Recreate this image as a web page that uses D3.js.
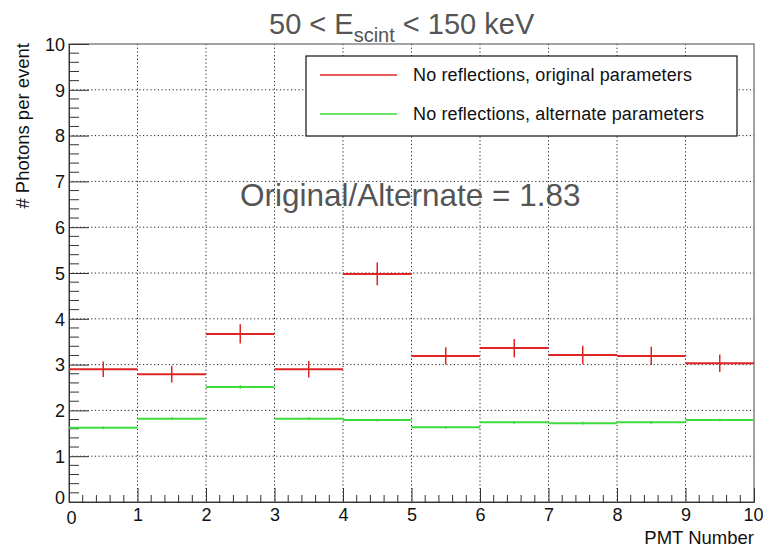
<!DOCTYPE html>
<html>
<head>
<meta charset="utf-8">
<script src="https://cdn.jsdelivr.net/npm/d3@7"></script>
<style>
  body { margin: 0; background: #fff; }
  svg text { font-family: "Liberation Sans", Arial, Helvetica, sans-serif; }
</style>
</head>
<body>
<div id="chart"></div>
<script>
// PMT bins 0..9 (bin width 1)
const pmt = [0, 1, 2, 3, 4, 5, 6, 7, 8, 9]
// no reflections, original parameters
const origVal = [2.90, 2.79, 3.67, 2.90, 4.98, 3.19, 3.36, 3.21, 3.19, 3.03]
const origErr = [0.17, 0.18, 0.21, 0.18, 0.25, 0.19, 0.20, 0.20, 0.20, 0.19]
// no reflections, alternate parameters
const altVal = [1.62, 1.82, 2.51, 1.82, 1.79, 1.63, 1.74, 1.72, 1.74, 1.79]
const altErr = [0.03, 0.03, 0.04, 0.03, 0.03, 0.03, 0.03, 0.03, 0.03, 0.03]
const xTicks = d3.range(0, 11)
const yTicks = d3.range(0, 11)
const legendLabels = ['No reflections, original parameters', 'No reflections, alternate parameters']
const colors = ['#e02424', '#3cdc3c']

const width = 763, height = 548
const mLeft = 69, mRight = 754, mTop = 44, mBottom = 502

const svg = d3.select('#chart').append('svg')
  .attr('width', width).attr('height', height)

const x = d3.scaleLinear().domain([0, 10]).range([mLeft, mRight])
const y = d3.scaleLinear().domain([0, 10]).range([mBottom, mTop])

// grid
svg.append('g').selectAll('line')
  .data(xTicks.slice(1, -1)).enter().append('line')
  .attr('x1', d => x(d)).attr('x2', d => x(d))
  .attr('y1', mTop).attr('y2', mBottom)
  .attr('stroke', '#222').attr('stroke-dasharray', '1.2,2.5')
svg.append('g').selectAll('line')
  .data(yTicks.slice(1, -1)).enter().append('line')
  .attr('y1', d => y(d)).attr('y2', d => y(d))
  .attr('x1', mLeft).attr('x2', mRight)
  .attr('stroke', '#222').attr('stroke-dasharray', '1.2,2.5')

// frame
svg.append('rect')
  .attr('x', mLeft).attr('y', mTop)
  .attr('width', mRight - mLeft).attr('height', mBottom - mTop)
  .attr('fill', 'none').attr('stroke', '#666').attr('stroke-width', 1.2)

// axes (ROOT style ticks inside the frame)
const xAxis = d3.axisBottom(x).tickValues(xTicks).tickSize(-14).tickPadding(4).tickFormat(d3.format('d'))
const gx = svg.append('g').attr('transform', `translate(0,${mBottom})`).call(xAxis)
const yAxis = d3.axisLeft(y).tickValues(yTicks).tickSize(-20).tickPadding(4).tickFormat(d3.format('d'))
const gy = svg.append('g').attr('transform', `translate(${mLeft},0)`).call(yAxis)
gx.select('.domain').attr('stroke', '#333')
gy.select('.domain').attr('stroke', '#333')
gx.selectAll('.tick line').attr('stroke', '#333')
gy.selectAll('.tick line').attr('stroke', '#333')
gx.selectAll('text').attr('font-size', 18).attr('fill', '#111').attr('dy', '0.85em')
gy.selectAll('text').attr('font-size', 18).attr('fill', '#111').attr('dy', '0.35em')
gx.selectAll('.tick').filter(d => d === 0).select('text').attr('dx', 2).attr('dy', '1.0em')
gx.selectAll('.tick').filter(d => d === 10).select('text').attr('dx', -1).attr('text-anchor', 'end').attr('x', 10)
gy.selectAll('.tick').filter(d => d === 0).select('text').attr('dy', '0.1em')

// minor ticks
const minor = d3.range(0, 10.001, 0.2).filter(d => Math.abs(d - Math.round(d)) > 1e-6)
svg.append('g').selectAll('line').data(minor).enter().append('line')
  .attr('x1', d => x(d)).attr('x2', d => x(d))
  .attr('y1', mBottom).attr('y2', mBottom - 7).attr('stroke', '#333')
svg.append('g').selectAll('line').data(minor).enter().append('line')
  .attr('y1', d => y(d)).attr('y2', d => y(d))
  .attr('x1', mLeft).attr('x2', mLeft + 10).attr('stroke', '#333')

// histograms with error bars
function drawHist(vals, errs, color) {
  const g = svg.append('g')
  g.selectAll('.h').data(pmt).enter().append('line')
    .attr('x1', d => x(d)).attr('x2', d => x(d + 1))
    .attr('y1', (d, i) => y(vals[i])).attr('y2', (d, i) => y(vals[i]))
    .attr('stroke', color).attr('stroke-width', 2)
  g.selectAll('.e').data(pmt).enter().append('line')
    .attr('x1', d => x(d + 0.5)).attr('x2', d => x(d + 0.5))
    .attr('y1', (d, i) => y(vals[i] - errs[i])).attr('y2', (d, i) => y(vals[i] + errs[i]))
    .attr('stroke', color).attr('stroke-width', 1.5)
}
drawHist(origVal, origErr, colors[0])
drawHist(altVal, altErr, colors[1])

// legend
const lg = svg.append('g')
lg.append('rect').attr('x', 306).attr('y', 56).attr('width', 431).attr('height', 80)
  .attr('fill', '#fff').attr('stroke', '#111').attr('stroke-width', 1.2)
legendLabels.forEach((t, i) => {
  const yy = 75 + i * 39
  lg.append('line').attr('x1', 320).attr('x2', 397).attr('y1', yy).attr('y2', yy)
    .attr('stroke', colors[i]).attr('stroke-width', 1.5)
  lg.append('text').attr('x', 413).attr('y', yy).attr('dy', '0.35em')
    .attr('font-size', 18).attr('fill', '#111').attr('textLength', i ? 291 : 279).text(t)
})

// ratio text
const sumO = d3.sum(origVal), sumA = d3.sum(altVal)
svg.append('text').attr('x', 240).attr('y', 206)
  .attr('font-size', 31.5).attr('fill', '#555')
  .text('Original/Alternate = ' + (sumO / sumA).toFixed(2))

// title
const title = svg.append('text').attr('x', 269).attr('y', 34)
  .attr('font-size', 29).attr('fill', '#555')
title.append('tspan').text('50 < E')
title.append('tspan').attr('font-size', 20).attr('dy', 8).text('scint')
title.append('tspan').attr('dy', -8).text(' < 150 keV')

// axis titles
svg.append('text').attr('x', mRight).attr('y', 544).attr('text-anchor', 'end')
  .attr('font-size', 18.5).attr('fill', '#111').text('PMT Number')
svg.append('text').attr('transform', 'translate(29,43) rotate(-90)').attr('text-anchor', 'end')
  .attr('font-size', 18.5).attr('fill', '#111').text('# Photons per event')
</script>
</body>
</html>
